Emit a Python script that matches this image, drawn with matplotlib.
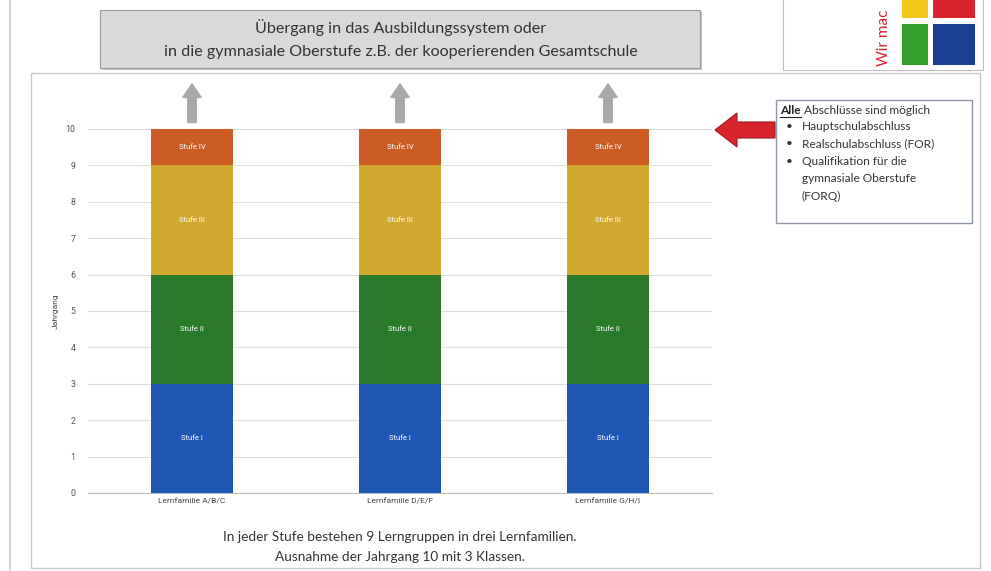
import matplotlib.pyplot as plt
from matplotlib.patches import Rectangle, FancyArrow

# Daten
lernfamilien = ["Lernfamilie A/B/C", "Lernfamilie D/E/F", "Lernfamilie G/H/I"]
stufen = ["Stufe I", "Stufe II", "Stufe III", "Stufe IV"]
stufen_jahre = [3, 3, 3, 1]          # Jahrgänge pro Stufe
stufen_farben = ["#1f57b4", "#2b7a2b", "#d3a82e", "#cc5b24"]
y_ticks = list(range(0, 11))

titel = ["Übergang in das Ausbildungssystem oder",
         "in die gymnasiale Oberstufe z.B. der kooperierenden Gesamtschule"]
hinweis = ["In jeder Stufe bestehen 9 Lerngruppen in drei Lernfamilien.",
           "Ausnahme der Jahrgang 10 mit 3 Klassen."]
abschluesse = ["Hauptschulabschluss", "Realschulabschluss (FOR)",
               "Qualifikation für die", "gymnasiale Oberstufe", "(FORQ)"]

W, H = 991, 571
fig = plt.figure(figsize=(W / 100, H / 100), dpi=100)

# Hintergrund-Ebene in Pixelkoordinaten
bg = fig.add_axes([0, 0, 1, 1], zorder=0)
bg.set_xlim(0, W)
bg.set_ylim(H, 0)
bg.axis("off")

slide_font = "Lato"
bg.plot([10, 10], [0, H], color="#cfcfcf", lw=1.2)

# Titelbox oben
bg.add_patch(Rectangle((102, 12), 600, 58, facecolor="#c4c4c4", edgecolor="none"))
bg.add_patch(Rectangle((100, 10), 600, 58, facecolor="#d9d9d9", edgecolor="#9a9a9a", lw=0.8))
bg.text(401, 28, titel[0], ha="center", va="center", fontsize=11.6,
        family=slide_font, color="#333333")
bg.text(401, 52, titel[1], ha="center", va="center", fontsize=11.6,
        family=slide_font, color="#333333")

# Logo (angedeutet)
bg.add_patch(Rectangle((783, -2), 200, 72, facecolor="white", edgecolor="#bdbdbd", lw=0.8))
bg.add_patch(Rectangle((902, -2), 26, 20, facecolor="#f3c81a", edgecolor="none"))
bg.add_patch(Rectangle((933, -2), 42, 20, facecolor="#d9232e", edgecolor="none"))
bg.add_patch(Rectangle((902, 24), 26, 41, facecolor="#33a02c", edgecolor="none"))
bg.add_patch(Rectangle((933, 24), 42, 41, facecolor="#1b3f93", edgecolor="none"))
bg.text(884, 66, "Wir mac", rotation=90, ha="center", va="bottom", fontsize=11,
        family=slide_font, color="#d9232e")

# Panel
bg.add_patch(Rectangle((31, 73), 949, 495, facecolor="white", edgecolor="#c8c8c8", lw=1))

# Textbox rechts
box_fs = 8.6
bg.add_patch(Rectangle((776, 100), 196, 123, facecolor="white", edgecolor="#8c96a6", lw=1))
t = bg.text(780, 114, "Alle", ha="left", va="baseline", fontsize=box_fs,
            family=slide_font, weight="bold", color="#222222")
fig.canvas.draw()
bb = t.get_window_extent().transformed(bg.transData.inverted())
x_end = max(bb.x0, bb.x1)
bg.plot([780, x_end], [116.5, 116.5], color="#222222", lw=0.8)
bg.text(x_end, 114, " Abschlüsse sind möglich", ha="left", va="baseline",
        fontsize=box_fs, family=slide_font, color="#333333")
zeilen_y = [130, 147, 165, 182, 200]
for i, (zeile, yy) in enumerate(zip(abschluesse, zeilen_y)):
    if i < 3:
        bg.text(786, yy, "•", ha="left", va="baseline", fontsize=box_fs,
                family=slide_font, color="#333333")
    bg.text(802, yy, zeile, ha="left", va="baseline", fontsize=box_fs,
            family=slide_font, color="#333333")

# Roter Pfeil
bg.add_patch(FancyArrow(775, 130, -60, 0, width=16, head_width=34, head_length=22,
                        length_includes_head=True, facecolor="#d8252c",
                        edgecolor="#9e1a1f", lw=0.8))

# Hinweis unten
bg.text(400, 537, hinweis[0], ha="center", va="center", fontsize=9.8,
        family=slide_font, color="#333333")
bg.text(400, 557, hinweis[1], ha="center", va="center", fontsize=9.8,
        family=slide_font, color="#333333")

# Diagramm
ax = fig.add_axes([88 / W, 1 - 493 / H, 624 / W, 364 / H], zorder=1)
ax.patch.set_alpha(0)
x = list(range(len(lernfamilien)))
unten = [0] * len(x)
for name, jahre, farbe in zip(stufen, stufen_jahre, stufen_farben):
    werte = [jahre] * len(x)
    bars = ax.bar(x, werte, bottom=unten, width=0.395, color=farbe, zorder=3)
    for b in bars:
        ax.text(b.get_x() + b.get_width() / 2, b.get_y() + b.get_height() / 2, name,
                ha="center", va="center", fontsize=5.5, color="white",
                family="Roboto", zorder=4)
    unten = [u + w for u, w in zip(unten, werte)]

for xi, top in zip(x, unten):
    ax.annotate("", xy=(xi, top + 1.32), xytext=(xi, top + 0.1),
                annotation_clip=False,
                arrowprops=dict(arrowstyle="simple,head_length=0.9,head_width=1.2,tail_width=0.55",
                                color="#a9a9a9", mutation_scale=11))

ax.set_xlim(-0.5, 2.5)
ax.set_ylim(0, 10)
ax.set_yticks(y_ticks)
ax.set_xticks(x)
ax.set_xticklabels(lernfamilien, family="Roboto", fontsize=6, color="#444444")
ax.tick_params(axis="y", labelsize=6.3, colors="#555555", length=0, pad=9)
ax.tick_params(axis="x", length=0, pad=4)
for lab in ax.get_yticklabels():
    lab.set_family("Roboto")
ax.set_ylabel("Jahrgang", fontsize=6, family="Roboto", color="#444444", labelpad=5)
ax.grid(axis="y", color="#dddddd", lw=0.8, zorder=0)
for s in ["top", "right", "left"]:
    ax.spines[s].set_visible(False)
ax.spines["bottom"].set_color("#bbbbbb")

fig.savefig("out.png", dpi=100)
